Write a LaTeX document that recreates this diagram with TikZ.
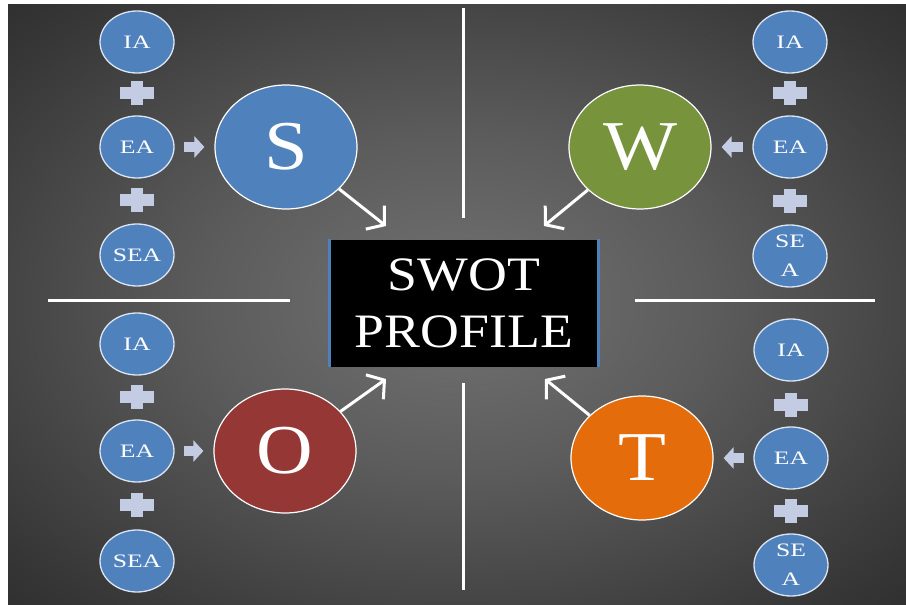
\documentclass[tikz,border=0pt]{standalone}
\usepackage{fontspec}
\setmainfont{Liberation Serif}[FakeStretch=1.12]
\newfontfamily\factorfont{Liberation Serif}[FakeStretch=1.35]
\usetikzlibrary{shapes.geometric,arrows.meta}
\definecolor{sblue}{HTML}{4F81BD}
\definecolor{wgreen}{HTML}{77933C}
\definecolor{ored}{HTML}{953735}
\definecolor{torange}{HTML}{E46C0A}
\definecolor{plusblue}{HTML}{C4CCE4}
\definecolor{rimblue}{HTML}{DCE5F2}
\definecolor{bgA}{HTML}{727272}
\definecolor{bgB}{HTML}{5C5C5C}
\definecolor{bgC}{HTML}{363636}
\definecolor{bgD}{HTML}{1C1C1C}
\definecolor{bgE}{HTML}{0C0C0C}
\pgfdeclareradialshading{bgglow}{\pgfpoint{0bp}{0bp}}{color(0bp)=(bgA); color(14bp)=(bgB); color(32bp)=(bgC); color(47bp)=(bgD); color(71bp)=(bgE)}
\begin{document}
\begin{tikzpicture}[x=1pt,y=-1pt,
  factor/.style={ellipse,fill=sblue,draw=rimblue,line width=1.3pt,minimum width=74pt,minimum height=62pt,inner sep=0pt,text=white,align=center,font=\factorfont\fontsize{19}{29}\selectfont},
  letter/.style={ellipse,draw=white,line width=1.2pt,minimum width=142pt,minimum height=124pt,inner sep=0pt,text=white,font=\fontsize{70}{70}\selectfont},
  feed/.style={draw=plusblue,line width=10pt,-{Triangle[length=10pt,width=21pt]},shorten <=9pt,shorten >=10pt},
  toprofile/.style={draw=white,line width=3pt,-{Straight Barb[length=12pt,width=30pt]}},
  divider/.style={draw=white,line width=3pt},
  boxedge/.style={draw=sblue,line width=3pt}]
\useasboundingbox (0,0) rectangle (906,605);
\fill[white] (0,0) rectangle (906,605);
\shade[shading=bgglow] (8,4) rectangle (906,605);
\draw[divider] (463,8)--(463,218);
\draw[divider] (463,383)--(463,590);
\draw[divider] (48,300)--(290,300);
\draw[divider] (635,300)--(875,300);
\node[fill=black,minimum width=268pt,minimum height=127pt,text=white,align=center,font=\fontsize{48}{57}\selectfont] (profile) at (464,303) {SWOT\\PROFILE};
\draw[boxedge] (profile.north west)--(profile.south west);
\draw[boxedge] (profile.north east)--(profile.south east);
\node[letter,fill=sblue] (s) at (286,147) {S};
\node[letter,fill=wgreen] (w) at (640,147) {W};
\node[letter,fill=ored] (o) at (285,451) {O};
\node[letter,fill=torange] (t) at (642,458) {T};
\node[factor] (s-ia) at (137,42) {IA};
\node[factor] (s-ea) at (137,147) {EA};
\node[factor] (s-sea) at (137,255) {SEA};
\node[factor] (w-ia) at (790,42) {IA};
\node[factor] (w-ea) at (790,147) {EA};
\node[factor] (w-sea) at (790,256) {SE\\A};
\node[factor] (o-ia) at (137,344) {IA};
\node[factor] (o-ea) at (137,451) {EA};
\node[factor] (o-sea) at (137,561) {SEA};
\node[factor] (t-ia) at (791,350) {IA};
\node[factor] (t-ea) at (791,458) {EA};
\node[factor] (t-sea) at (791,565) {SE\\A};
\foreach \x/\y in {137/93,137/200,790/93,790/201,137/397,137/505,791/405,791/511}{
\fill[plusblue] (\x-17,\y-6) rectangle (\x+17,\y+6);
\fill[plusblue] (\x-6,\y-12) rectangle (\x+6,\y+12);
}
\draw[feed] (s-ea)--(s);
\draw[feed] (w-ea)--(w);
\draw[feed] (o-ea)--(o);
\draw[feed] (t-ea)--(t);
\coordinate (s-tip) at (386,226);
\coordinate (w-tip) at (544,226);
\coordinate (o-tip) at (386,379);
\coordinate (t-tip) at (545,379);
\draw[toprofile] (s)--(s-tip);
\draw[toprofile] (w)--(w-tip);
\draw[toprofile] (o)--(o-tip);
\draw[toprofile] (t)--(t-tip);
\end{tikzpicture}
\end{document}
